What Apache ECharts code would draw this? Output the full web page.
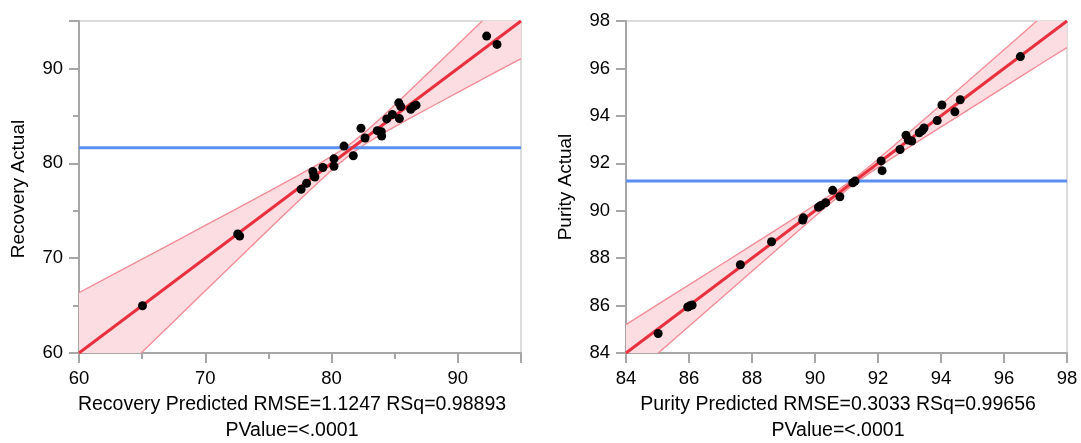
<!DOCTYPE html>
<html>
<head>
<meta charset="utf-8">
<script src="https://cdn.jsdelivr.net/npm/echarts@6/dist/echarts.min.js"></script>
<style>html,body{margin:0;padding:0;background:#fff;}#c{width:1081px;height:443px;}</style>
</head>
<body>
<div id="c"></div>
<script>
// ---- Left panel: Recovery ----
const recPredicted = [65.03, 72.57, 72.72, 77.59, 78.02, 78.52, 78.60, 78.68, 79.31, 80.19, 80.19, 80.98, 81.72, 82.33, 82.65, 83.62, 83.94, 83.97, 84.37, 84.81, 85.32, 85.48, 85.37, 86.27, 86.69, 86.48, 92.28, 93.10];
const recActual    = [64.98, 72.55, 72.34, 77.25, 77.89, 79.13, 78.67, 78.56, 79.55, 80.47, 79.69, 81.81, 80.79, 83.69, 82.66, 83.44, 83.33, 82.87, 84.68, 85.14, 86.37, 85.98, 84.71, 85.70, 86.13, 85.98, 93.41, 92.53];
const recMean = 81.65;
const recFitX = [60, 95];
const recFitY = [60, 95];
const recBandX     = [60, 62.5, 65, 67.5, 70, 72.5, 75, 77, 79, 80.5, 81.6, 82.7, 84, 86, 88, 90, 92.5, 95];
const recBandUpper = [66.36, 68.13, 69.90, 71.67, 73.45, 75.22, 77.01, 78.46, 79.94, 81.14, 82.15, 83.34, 84.89, 87.40, 89.96, 92.52, 95.74, 98.97];
const recBandLower = [53.64, 56.87, 60.10, 63.33, 66.55, 69.78, 72.99, 75.54, 78.06, 79.86, 81.05, 82.06, 83.11, 84.60, 86.04, 87.48, 89.26, 91.03];
const recXTitle = 'Recovery Predicted RMSE=1.1247 RSq=0.98893';
const recYTitle = 'Recovery Actual';

// ---- Right panel: Purity ----
const purPredicted = [85.02, 85.96, 86.03, 86.10, 87.63, 88.62, 89.61, 89.63, 90.11, 90.19, 90.34, 90.56, 90.79, 91.20, 91.27, 92.10, 92.13, 92.70, 92.89, 92.96, 93.07, 93.31, 93.46, 93.40, 93.88, 94.03, 94.44, 94.61, 96.52];
const purActual    = [84.82, 85.94, 85.99, 86.02, 87.72, 88.69, 89.61, 89.70, 90.15, 90.22, 90.34, 90.86, 90.59, 91.18, 91.25, 92.10, 91.69, 92.58, 93.18, 92.98, 92.94, 93.29, 93.49, 93.38, 93.80, 94.46, 94.17, 94.68, 96.50];
const purMean = 91.25;
const purFitX = [84, 98];
const purFitY = [84, 98];
const purBandX     = [84, 85, 86, 87, 88, 89, 90, 90.7, 91.25, 91.8, 92.5, 93.5, 94.5, 95.5, 96.5, 97.5, 98];
const purBandUpper = [85.20, 86.04, 86.87, 87.71, 88.55, 89.39, 90.24, 90.85, 91.36, 91.95, 92.74, 93.89, 95.05, 96.21, 97.37, 98.54, 99.12];
const purBandLower = [82.80, 83.97, 85.13, 86.29, 87.45, 88.61, 89.77, 90.55, 91.14, 91.65, 92.27, 93.11, 93.95, 94.79, 95.63, 96.47, 96.88];
const purXTitle = 'Purity Predicted RMSE=0.3033 RSq=0.99656';
const purYTitle = 'Purity Actual';
const pTitle = 'PValue=<.0001';

const FONT = '"Liberation Sans", Arial, sans-serif';
const AXIS_GRAY = '#a6a6a6';
const zip = (a, b) => a.map((v, i) => [v, b[i]]);

function axis(gridIndex, min, max, interval, minor, showMax) {
  return {
    type: 'value', gridIndex, min, max, interval,
    axisLine: { show: true, lineStyle: { color: AXIS_GRAY, width: 2 } },
    axisTick: { show: true, length: 10, lineStyle: { color: AXIS_GRAY, width: 2 } },
    minorTick: { show: minor, splitNumber: 2, length: 6, lineStyle: { color: AXIS_GRAY, width: 2 } },
    splitLine: { show: false },
    axisLabel: { color: '#000', fontSize: 18.5, fontFamily: FONT, margin: 16, showMaxLabel: showMax }
  };
}

function bandSeries(idx, bx, bu, bl) {
  return {
    type: 'custom', xAxisIndex: idx, yAxisIndex: idx, silent: true, z: 1,
    data: zip(bx, bu),
    renderItem: function (params, api) {
      if (params.dataIndex !== 0) return null;
      const up = bx.map((x, i) => api.coord([x, bu[i]]));
      const lo = bx.map((x, i) => api.coord([x, bl[i]]));
      const cs = params.coordSys;
      const clip = { type: 'rect', shape: { x: cs.x, y: cs.y, width: cs.width, height: cs.height } };
      return {
        type: 'group',
        children: [
          { type: 'polygon', shape: { points: up.concat(lo.slice().reverse()) },
            style: { fill: '#fcdde1', stroke: null }, clipPath: clip },
          { type: 'polyline', shape: { points: up }, style: { fill: null, stroke: '#f28d98', lineWidth: 1.4 }, clipPath: clip },
          { type: 'polyline', shape: { points: lo }, style: { fill: null, stroke: '#f28d98', lineWidth: 1.4 }, clipPath: clip }
        ]
      };
    }
  };
}

function panelSeries(idx, bx, bu, bl, mean, xmin, xmax, fx, fy, px, py) {
  return [
    bandSeries(idx, bx, bu, bl),
    { type: 'line', xAxisIndex: idx, yAxisIndex: idx, data: [[xmin, mean], [xmax, mean]],
      symbol: 'none', lineStyle: { color: '#5b8ff2', width: 3 }, z: 2, silent: true },
    { type: 'line', xAxisIndex: idx, yAxisIndex: idx, data: zip(fx, fy),
      symbol: 'none', lineStyle: { color: '#e8303f', width: 3 }, z: 3, silent: true },
    { type: 'scatter', xAxisIndex: idx, yAxisIndex: idx, data: zip(px, py),
      symbolSize: 9, itemStyle: { color: '#000', opacity: 1 }, z: 4 }
  ];
}

const titleStyle = { fill: '#000', fontSize: 19.5, fontFamily: FONT };
const yTitleStyle = { fill: '#000', fontSize: 19, fontFamily: FONT };

const option = {
  animation: false,
  backgroundColor: '#fff',
  grid: [
    { left: 79, top: 21, width: 442, height: 332, show: true, borderColor: '#b8b8b8', borderWidth: 1 },
    { left: 626, top: 21, width: 441, height: 332, show: true, borderColor: '#b8b8b8', borderWidth: 1 }
  ],
  xAxis: [axis(0, 60, 95, 10, true, false), axis(1, 84, 98, 2, false, true)],
  yAxis: [axis(0, 60, 95, 10, true, false), axis(1, 84, 98, 2, false, true)],
  series: [].concat(
    panelSeries(0, recBandX, recBandUpper, recBandLower, recMean, 60, 95, recFitX, recFitY, recPredicted, recActual),
    panelSeries(1, purBandX, purBandUpper, purBandLower, purMean, 84, 98, purFitX, purFitY, purPredicted, purActual)
  ),
  graphic: [
    { type: 'text', x: 292, y: 405, style: Object.assign({ text: recXTitle, textAlign: 'center', textVerticalAlign: 'middle' }, titleStyle) },
    { type: 'text', x: 292, y: 431, style: Object.assign({ text: pTitle, textAlign: 'center', textVerticalAlign: 'middle' }, titleStyle) },
    { type: 'text', x: 838, y: 405, style: Object.assign({ text: purXTitle, textAlign: 'center', textVerticalAlign: 'middle' }, titleStyle) },
    { type: 'text', x: 838, y: 431, style: Object.assign({ text: pTitle, textAlign: 'center', textVerticalAlign: 'middle' }, titleStyle) },
    { type: 'text', x: 19, y: 189, rotation: Math.PI / 2, style: Object.assign({ text: recYTitle, textAlign: 'center', textVerticalAlign: 'middle' }, yTitleStyle) },
    { type: 'text', x: 566, y: 187, rotation: Math.PI / 2, style: Object.assign({ text: purYTitle, textAlign: 'center', textVerticalAlign: 'middle' }, yTitleStyle) }
  ]
};

const chart = echarts.init(document.getElementById('c'), null, { renderer: 'canvas' });
chart.setOption(option);
</script>
</body>
</html>
